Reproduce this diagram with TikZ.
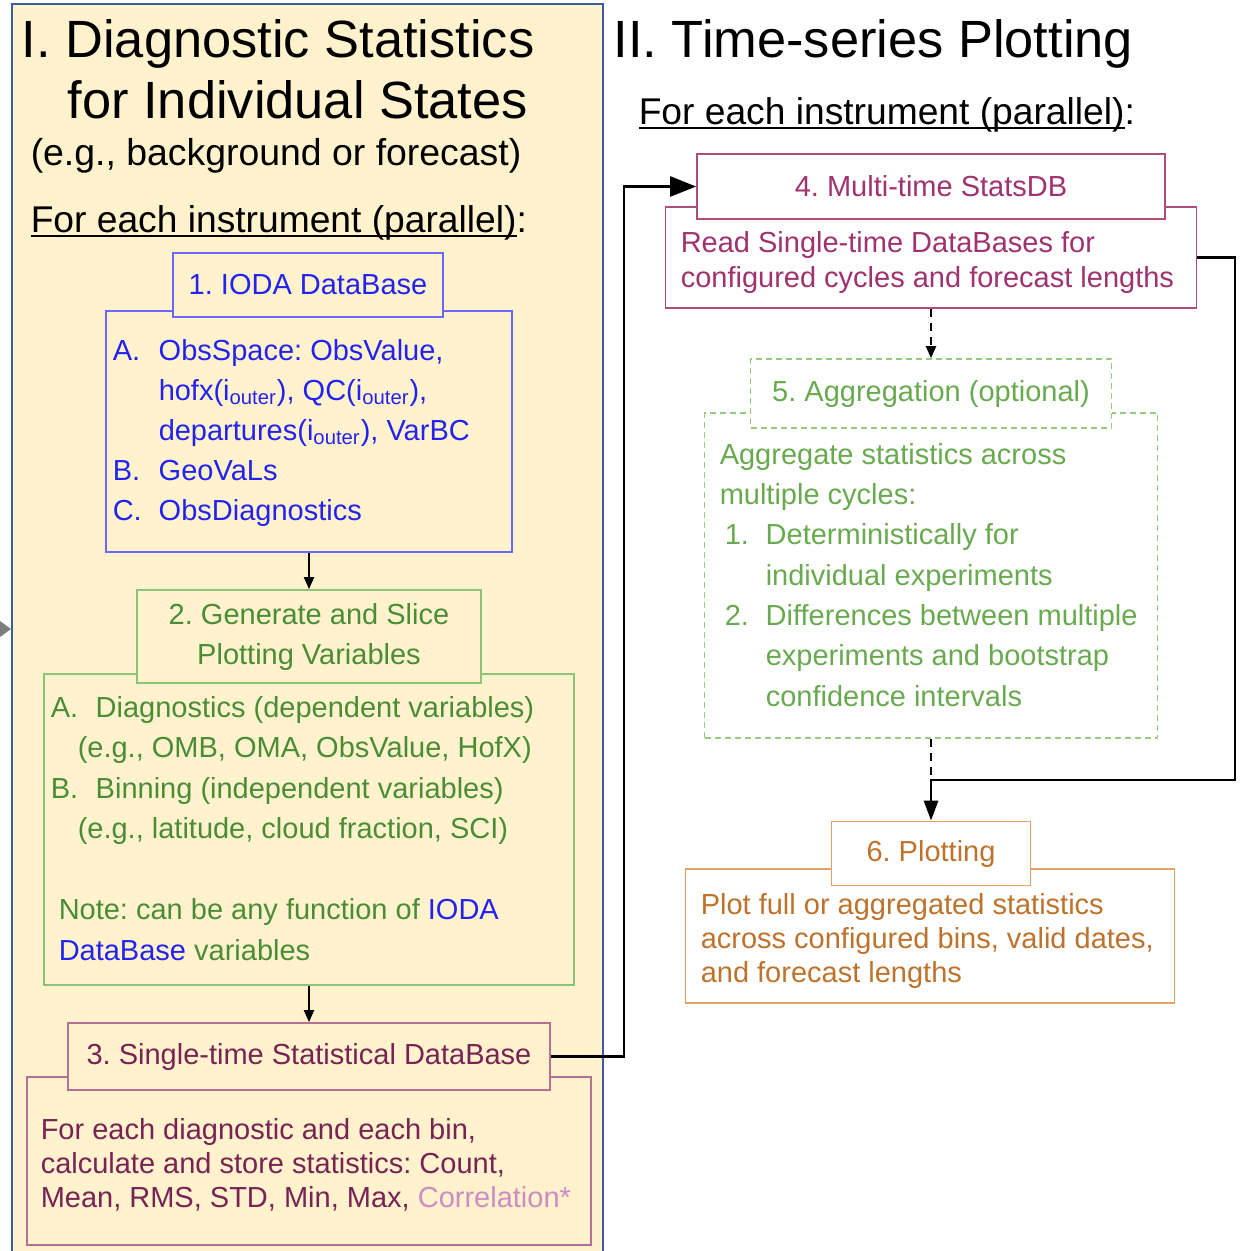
\documentclass[tikz,border=0pt]{standalone}
\usepackage{fontspec}
\setmainfont{Liberation Sans}
\usepackage{tikz}
\usetikzlibrary{arrows.meta}
\definecolor{panelfill}{RGB}{255,242,204}
\definecolor{panelline}{RGB}{60,90,160}
\definecolor{iodaline}{RGB}{105,105,255}
\definecolor{iodatext}{RGB}{35,35,240}
\definecolor{sliceline}{RGB}{140,195,120}
\definecolor{slicetext}{RGB}{75,140,55}
\definecolor{statline}{RGB}{185,110,150}
\definecolor{stattext}{RGB}{120,35,85}
\definecolor{corrpink}{RGB}{205,140,195}
\definecolor{multiline}{RGB}{175,75,125}
\definecolor{multitext}{RGB}{160,50,110}
\definecolor{aggline}{RGB}{150,205,125}
\definecolor{aggtext}{RGB}{105,170,80}
\definecolor{plotline}{RGB}{225,160,100}
\definecolor{plottext}{RGB}{190,115,45}
\definecolor{tipgray}{RGB}{125,125,125}
\newcommand{\undertext}[1]{\setbox0\hbox{#1}\rlap{\rule[-2.4pt]{\wd0}{0.8pt}}\box0}
\tikzset{every picture/.style={line width=0.75pt},
  headfont/.style={font=\fontsize{14.5pt}{20pt}\selectfont},
  bodytext/.style={anchor=north west, inner sep=0pt, align=left, font=\fontsize{14.5pt}{#1}\selectfont},
  bodytext/.default=20pt,
  titletext/.style={anchor=base west, inner sep=0pt, font=\fontsize{26.2pt}{31pt}\selectfont},
  subtext/.style={anchor=base west, inner sep=0pt, font=\fontsize{#1}{23pt}\selectfont},
  iodabox/.style={draw=iodaline, line width=0.9pt, text=iodatext, headfont},
  slicebox/.style={draw=sliceline, line width=0.9pt, text=slicetext, headfont, align=center},
  statbox/.style={draw=statline, line width=0.9pt, text=stattext, headfont},
  multibox/.style={draw=multiline, line width=0.9pt, text=multitext, headfont, fill=white},
  aggbox/.style={draw=aggline, line width=0.8pt, dash pattern=on 3pt off 2pt, text=aggtext, headfont, fill=white},
  plotbox/.style={draw=plotline, line width=0.9pt, text=plottext, headfont, fill=white},
  link/.style={line width=1pt, -{Triangle[length=6pt,width=5pt]}},
  dashlink/.style={line width=1pt, dash pattern=on 4pt off 3pt},
  biglink/.style={line width=1.4pt}
}

\begin{document}
\frenchspacing
\begin{tikzpicture}[x=0.5pt,y=0.5pt,yscale=-1,xscale=1]
\useasboundingbox (0,0) rectangle (1251,1250);

%Shape: Rectangle
\fill[panelfill] (12,4) rectangle (603,1260);
\draw[panelline, line width=1.2pt] (12,1260) -- (12,4) -- (603,4) -- (603,1260);
%Shape: Triangle
\fill[tipgray] (0,621) -- (11,629) -- (0,637) -- cycle;

%Shape: Rectangle
\node[iodabox, minimum width=203pt, minimum height=120.5pt] (iodabody) at (309,431.5) {};
\node[iodabox, fill=panelfill, minimum width=135pt, minimum height=32pt] (iodahead) at (308,285) {1. IODA DataBase};
%Shape: Rectangle
\node[slicebox, minimum width=265pt, minimum height=155.5pt] (slicebody) at (309,829.5) {};
\node[slicebox, fill=panelfill, minimum width=172pt, minimum height=46.5pt] (slicehead) at (309,636.5) {2. Generate and Slice\\Plotting Variables};
%Shape: Rectangle
\node[statbox, minimum width=282pt, minimum height=84pt] (statbody) at (309,1161) {};
\node[statbox, fill=panelfill, minimum width=241pt, minimum height=33.5pt] (stathead) at (309,1056.5) {3. Single-time Statistical DataBase};

%Shape: Rectangle
\node[multibox, minimum width=265.5pt, minimum height=50.5pt] (multibody) at (931,257.5) {};
\node[multibox, minimum width=234pt, minimum height=32.5pt] (multihead) at (931,186.5) {4. Multi-time StatsDB};
%Shape: Rectangle
\node[aggbox, minimum width=226.5pt, minimum height=162.5pt] (aggbody) at (931,575.5) {};
\node[aggbox, minimum width=180.5pt, minimum height=34.5pt] (agghead) at (931,393.5) {5. Aggregation (optional)};
%Shape: Rectangle
\node[plotbox, minimum width=244.5pt, minimum height=67pt] (plotbody) at (930,936) {};
\node[plotbox, minimum width=99.5pt, minimum height=32pt] (plothead) at (931,853.5) {6. Plotting};

%Straight Lines
\draw[link] (iodabody.south) -- (slicehead.north);
\draw[link] (slicebody.south) -- (stathead.north);
\draw[dashlink, -{Triangle[length=6pt,width=5pt]}] (multibody.south) -- (agghead.north);
\coordinate (leftrail) at (624,1056.5);
\coordinate (merge) at (931,780);
\coordinate (rightrail) at (1235,780);
\draw[dashlink] (aggbody.south) -- (merge);
%Elbow Lines
\draw[biglink, -{Triangle[length=13pt,width=10pt]}] (stathead.east) -- (leftrail) |- (multihead.west);
\draw[biglink, -{Triangle[length=10pt,width=7pt]}] (multibody.east) -| (rightrail) -- (merge) -- (plothead.north);

% Text Node
\node[titletext] (lefttitle) at (21,57) {I. Diagnostic Statistics};
% Text Node
\node[titletext] (lefttitletwo) at (67,118) {for Individual States};
% Text Node
\node[subtext=18.7pt] (leftstate) at (30,165) {(e.g., background or forecast)};
% Text Node
\node[subtext=18.6pt] (leftparallel) at (30,232) {\undertext{For each instrument (parallel)}:};
% Text Node
\node[titletext] (righttitle) at (613,57) {II. Time-series Plotting};
% Text Node
\node[subtext=18.6pt] (rightparallel) at (638,124) {\undertext{For each instrument (parallel)}:};

% Text Node
\node[bodytext, text=iodatext] (iodalist) at (112,338.5) {\makebox[23pt][l]{A.}ObsSpace: ObsValue,\\
\hspace*{23pt}hofx(i\textsubscript{outer}), QC(i\textsubscript{outer}),\\
\hspace*{23pt}departures(i\textsubscript{outer}), VarBC\\
\makebox[23pt][l]{B.}GeoVaLs\\
\makebox[23pt][l]{C.}ObsDiagnostics};
% Text Node
\node[bodytext=20.25pt, text=slicetext] (slicelist) at (50,695.5) {\makebox[22.5pt][l]{A.}Diagnostics (dependent variables)\\
\hspace*{13.5pt}(e.g., OMB, OMA, ObsValue, HofX)\\
\makebox[22.5pt][l]{B.}Binning (independent variables)\\
\hspace*{13.5pt}(e.g., latitude, cloud fraction, SCI)\\[20.25pt]
\hspace*{4pt}Note: can be any function of \textcolor{iodatext}{IODA}\\
\hspace*{4pt}\textcolor{iodatext}{DataBase} variables};
% Text Node
\node[bodytext=17pt, text=stattext] (statlist) at (40,1117.5) {For each diagnostic and each bin,\\
calculate and store statistics: Count,\\
Mean, RMS, STD, Min, Max, \textcolor{corrpink}{Correlation*}};
% Text Node
\node[bodytext=17.5pt, text=multitext] (multilist) at (680,230.5) {Read Single-time DataBases for\\
configured cycles and forecast lengths};
% Text Node
\node[bodytext=20.15pt, text=aggtext] (agglist) at (719,442.5) {Aggregate statistics across\\
multiple cycles:\\
\hspace*{2.5pt}\makebox[20.5pt][l]{1.}Deterministically for\\
\hspace*{23pt}individual experiments\\
\hspace*{2.5pt}\makebox[20.5pt][l]{2.}Differences between multiple\\
\hspace*{23pt}experiments and bootstrap\\
\hspace*{23pt}confidence intervals};
% Text Node
\node[bodytext=17pt, text=plottext] (plotlist) at (700,892.5) {Plot full or aggregated statistics\\
across configured bins, valid dates,\\
and forecast lengths};

\end{tikzpicture}
\end{document}
